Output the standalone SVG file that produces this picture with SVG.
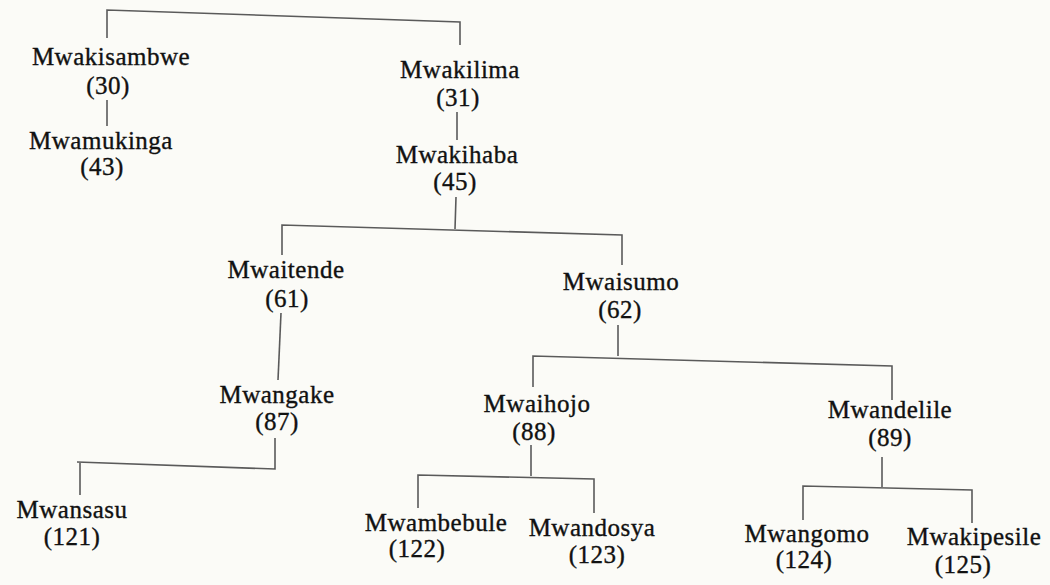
<svg xmlns="http://www.w3.org/2000/svg" width="1050" height="585" viewBox="0 0 1050 585">
<style>
.n{font-family:"Liberation Serif","Times New Roman",serif;font-size:25px;letter-spacing:0.5px;fill:#111;stroke:#111;stroke-width:0.35;text-anchor:middle}
.c path{fill:none;stroke:#5a5a5a;stroke-width:1.6}
</style>
<rect width="1050" height="585" fill="#fbfbf7"/>
<g class="c" id="connectors">
<path d="M107,38 L107,10 L460,22 L460,45"/>
<path d="M107,100 L107,126"/>
<path d="M457,112 L457,140"/>
<path d="M456,197 L455,229"/>
<path d="M282,255 L282,225 L622,235 L622,265"/>
<path d="M281,313 L278,380"/>
<path d="M618,325 L618,356"/>
<path d="M533,387 L533,356 L892,366 L892,400"/>
<path d="M275,438 L275,469 L77,462 M80,462 L80,495"/>
<path d="M531,445 L531,476"/>
<path d="M418,508 L418,475 L594,479 L594,513"/>
<path d="M882,457 L882,487"/>
<path d="M803,520 L803,486 L972,490 L972,523"/>
</g>
<g id="n30"><text class="n" x="111" y="65">Mwakisambwe</text><text class="n" x="108" y="94">(30)</text></g>
<g id="n43"><text class="n" x="101" y="149">Mwamukinga</text><text class="n" x="102" y="175">(43)</text></g>
<g id="n31"><text class="n" x="460" y="78">Mwakilima</text><text class="n" x="458" y="106">(31)</text></g>
<g id="n45"><text class="n" x="457" y="163">Mwakihaba</text><text class="n" x="455" y="190">(45)</text></g>
<g id="n61"><text class="n" x="286" y="278">Mwaitende</text><text class="n" x="287" y="307">(61)</text></g>
<g id="n62"><text class="n" x="621" y="290">Mwaisumo</text><text class="n" x="620" y="318">(62)</text></g>
<g id="n87"><text class="n" x="277" y="403">Mwangake</text><text class="n" x="277" y="430">(87)</text></g>
<g id="n88"><text class="n" x="537" y="412">Mwaihojo</text><text class="n" x="534" y="440">(88)</text></g>
<g id="n89"><text class="n" x="890" y="418">Mwandelile</text><text class="n" x="890" y="446">(89)</text></g>
<g id="n121"><text class="n" x="72" y="518">Mwansasu</text><text class="n" x="72" y="545">(121)</text></g>
<g id="n122"><text class="n" x="436" y="531">Mwambebule</text><text class="n" x="417" y="557">(122)</text></g>
<g id="n123"><text class="n" x="592" y="536">Mwandosya</text><text class="n" x="597" y="563">(123)</text></g>
<g id="n124"><text class="n" x="807" y="542">Mwangomo</text><text class="n" x="804" y="568">(124)</text></g>
<g id="n125"><text class="n" x="974" y="545">Mwakipesile</text><text class="n" x="963" y="573">(125)</text></g>
</svg>
